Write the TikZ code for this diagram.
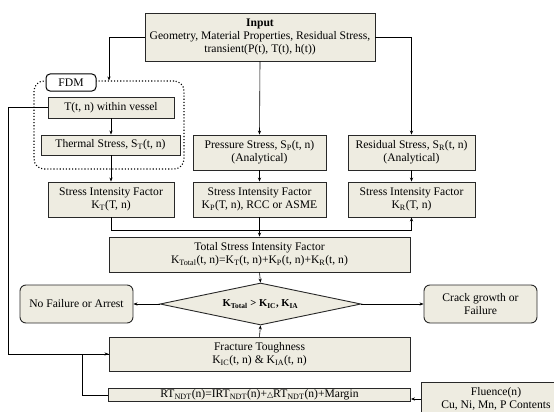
\documentclass[tikz,border=0pt]{standalone}
\usepackage{fontspec}
\setmainfont{Liberation Serif}
\newfontfamily\symFont{DejaVu Sans}
\usepackage{tikz}
\usetikzlibrary{arrows.meta, shapes.geometric, calc}

\begin{document}
\begin{tikzpicture}[x=1pt, y=-1pt, every node/.style={font=\fontsize{11.6}{13.4}\selectfont}]
        % Define custom colors for boxes
        \definecolor{boxFill}{RGB}{238,236,225} % Beige for process boxes
        \definecolor{boxLine}{RGB}{40,40,40}    % Dark border

        % Styles for boxes and connectors
        \tikzset{
            procBox/.style={draw=boxLine, line width=0.9pt, fill=boxFill, inner sep=0pt, align=center},
            endBox/.style={procBox, rounded corners=6pt},
            flowArrow/.style={-{Stealth[length=4pt, width=3.2pt]}, line width=0.6pt},
            flowLine/.style={line width=0.6pt}
        }

        % Fixes the page to the size of the figure
        \useasboundingbox (0,0) rectangle (554,412);

        % Input box on top
        \node[procBox, minimum width=230, minimum height=48] (Input_box) at (260,37)
            {\textbf{Input}\\Geometry, Material Properties, Residual Stress,\\transient(P(t), T(t), h(t))};

        % FDM group (dotted frame and its label)
        \node[draw, dotted, line width=1.1pt, rounded corners=10pt, minimum width=150, minimum height=88] (FDM_frame) at (109,125) {};
        \node[draw, fill=white, line width=1pt, rounded corners=4pt, minimum width=50, minimum height=17, inner sep=0pt] (FDM_label) at (71,82.5) {FDM};
        \node[procBox, minimum width=126, minimum height=21] (T_vessel) at (111,107.5) {T(t, n) within vessel};
        \node[procBox, minimum width=139, minimum height=20] (Stress_T) at (110.5,145) {Thermal Stress, S\textsubscript{T}(t, n)};

        % Pressure and residual stress
        \node[procBox, minimum width=133, minimum height=35] (Stress_P) at (259.5,152.5) {Pressure Stress, S\textsubscript{P}(t, n)\\(Analytical)};
        \node[procBox, minimum width=127, minimum height=35] (Stress_R) at (411.5,152.5) {Residual Stress, S\textsubscript{R}(t, n)\\(Analytical)};

        % Stress intensity factors
        \node[procBox, minimum width=126, minimum height=35] (SIF_T) at (111,199.5) {Stress Intensity Factor\\K\textsubscript{T}(T, n)};
        \node[procBox, minimum width=133, minimum height=35] (SIF_P) at (259.5,199.5) {Stress Intensity Factor\\K\textsubscript{P}(T, n), RCC or ASME};
        \node[procBox, minimum width=127, minimum height=35] (SIF_R) at (411.5,199.5) {Stress Intensity Factor\\K\textsubscript{R}(T, n)};

        % Total SIF
        \node[procBox, minimum width=301, minimum height=35] (SIF_total) at (259.5,254.5)
            {Total Stress Intensity Factor\\K\textsubscript{Total}(t, n)=K\textsubscript{T}(t, n)+K\textsubscript{P}(t, n)+K\textsubscript{R}(t, n)};

        % Decision and outcomes
        \node[diamond, draw=boxLine, line width=0.9pt, fill=boxFill, aspect=4.8, minimum width=201, minimum height=42, inner sep=0pt,
              font=\fontsize{10.6}{12}\selectfont] (Check) at (260.5,304)
            {\textbf{K\textsubscript{Total} > K\textsubscript{IC}, K\textsubscript{IA}}};
        \node[endBox, minimum width=113, minimum height=38] (No_fail) at (76.5,304) {No Failure or Arrest};
        \node[endBox, minimum width=113, minimum height=38] (Crack_fail) at (480.5,304) {Crack growth or\\Failure};

        % Fracture toughness and RT_NDT
        \node[procBox, minimum width=301, minimum height=34] (Toughness) at (259.5,354)
            {Fracture Toughness\\K\textsubscript{IC}(t, n) \& K\textsubscript{IA}(t, n)};
        \node[procBox, minimum width=302, minimum height=13] (RT_ndt) at (259.5,395)
            {RT\textsubscript{NDT}(n)=IRT\textsubscript{NDT}(n)+{\symFont\footnotesize △}RT\textsubscript{NDT}(n)+Margin};
        \node[procBox, minimum width=150, minimum height=34] (Fluence) at (496,399)
            {Fluence(n)\\Cu, Ni, Mn, P Contents};

        % Bus line below the SIF row
        \coordinate (SIF_bus) at (0,230);

        % Connectors
        \draw[flowArrow] (Input_box.west) -| (FDM_frame.north);
        \draw[flowArrow] (Input_box.east) -| (Stress_R.north);
        \draw[flowArrow] (Input_box.south) -- (Stress_P.north);
        \draw[flowArrow] (T_vessel.south) -- (T_vessel.south |- Stress_T.north);
        \draw[flowArrow] (Stress_T.south -| T_vessel.south) -- (SIF_T.north);
        \draw[flowArrow] (Stress_P.south) -- (SIF_P.north);
        \draw[flowArrow] (Stress_R.south) -- (SIF_R.north);
        \draw[flowArrow] (SIF_T.south) |- (SIF_bus -| SIF_R.south) -- (SIF_R.south);
        \draw[flowArrow] (SIF_P.south) -- (SIF_total.north);
        \draw[flowArrow] (SIF_total.south) -- (Check.north);
        \draw[flowArrow] (Toughness.north) -- (Check.south);
        \draw[flowArrow] (Check.west) -- (No_fail.east);
        \draw[flowArrow] (Check.east) -- (Crack_fail.west);
        \draw[flowArrow] (T_vessel.west) -- ++(-39,0) |- (Toughness.west);
        \draw[flowLine] (RT_ndt.west) -- ++(-26,0) |- (Toughness.west);
        \draw[flowArrow] (Fluence.west) -- (Fluence.west -| RT_ndt.east);
\end{tikzpicture}
\end{document}
